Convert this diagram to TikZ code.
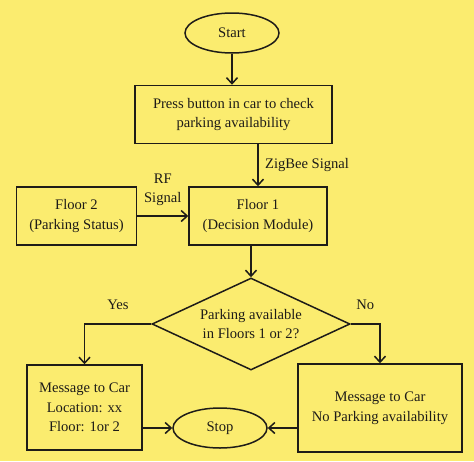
\documentclass[tikz,border=0pt]{standalone}
\usepackage{fontspec}
\setmainfont{Liberation Serif}
\usepackage{xcolor}
\definecolor{bgyellow}{HTML}{FBEC6F}
\definecolor{linedark}{HTML}{1E1C18}
\usepackage{tikz}
\usetikzlibrary{positioning,shapes.geometric,arrows.meta}

\begin{document}
\begin{tikzpicture}[x=1pt,y=-1pt,
    every node/.style={font=\fontsize{14.6}{19.5}\selectfont,text=linedark},
    box/.style={rectangle,draw=linedark,line width=1.5pt,fill=bgyellow,align=center,inner sep=0pt},
    term/.style={ellipse,draw=linedark,line width=1.5pt,fill=bgyellow,minimum width=94pt,minimum height=40pt,inner sep=0pt},
    decision/.style={diamond,draw=linedark,line width=1.5pt,fill=bgyellow,align=center,aspect=2.15,minimum width=198pt,minimum height=92pt,inner sep=0pt},
    flow/.style={draw=linedark,line width=1.5pt,-{Straight Barb[length=6pt,width=11pt]}}]
    % background and page size
    \fill[bgyellow] (0,0) rectangle (474,461);
    \useasboundingbox (0,0) rectangle (474,461);
    % Define the blocks of the flow chart
    \node[term] (start) at (232,33) {Start};
    \node[box,minimum width=197pt,minimum height=58pt,below=31pt of start,xshift=1.5pt] (press) {Press button in car to check\\parking availability};
    \node[box,minimum width=138pt,minimum height=58pt] (floor1) at (258,216) {Floor 1\\(Decision Module)};
    \node[box,minimum width=120pt,minimum height=58pt,left=51pt of floor1] (floor2) {Floor 2\\(Parking Status)};
    \node[decision] (check) at (251,324) {Parking available\\in Floors 1 or 2?};
    \node[box,minimum width=115pt,minimum height=85pt] (found) at (84.5,407.5) {Message to Car\\Location: xx\\Floor: 1or 2};
    \node[box,minimum width=164pt,minimum height=88pt] (nospace) at (380,408) {Message to Car\\No Parking availability};
    \node[term] (stop) at (220,428) {Stop};
    % Connect the blocks
    \draw[flow] (start.south) -- (start.south |- press.north);
    \draw[flow] (floor1.north |- press.south) -- node[right=3pt] {ZigBee Signal} (floor1.north);
    \draw[flow] (floor2) -- node[above=6pt,align=center] {RF\\Signal} (floor1);
    \draw[flow] (check.north |- floor1.south) -- (check.north);
    \draw[flow] (check.west) -| node[pos=0.25,above=10pt] {Yes} (found.north);
    \draw[flow] (check.east) -| node[pos=0.25,above=10pt] {No} (nospace.north);
    \draw[flow] (found.east |- stop) -- (stop.west);
    \draw[flow] (nospace.west |- stop) -- (stop.east);
\end{tikzpicture}
\end{document}
